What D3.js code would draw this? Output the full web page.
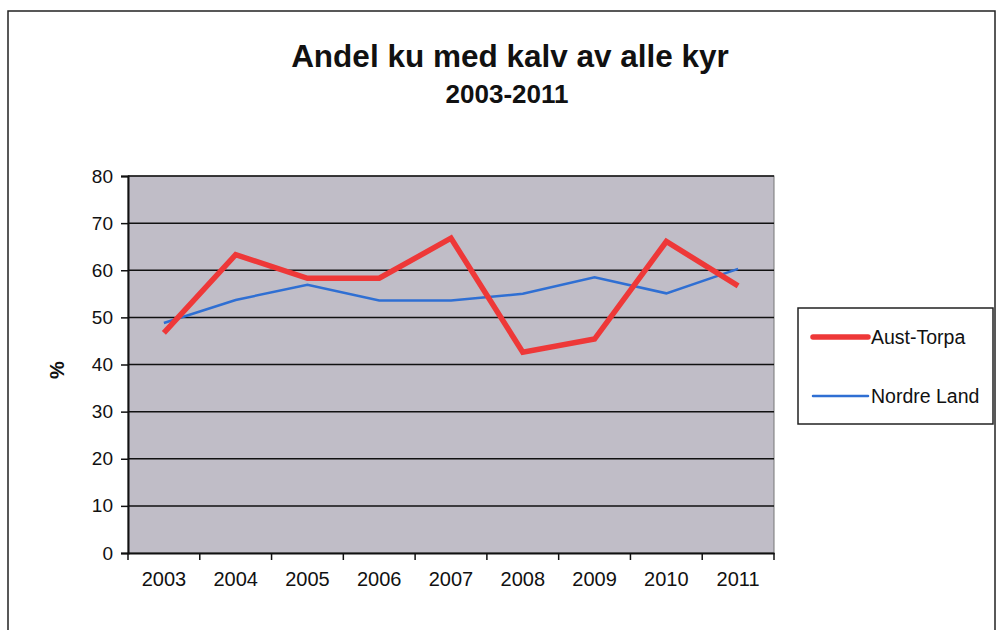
<!DOCTYPE html>
<html>
<head>
<meta charset="utf-8">
<script src="https://cdn.jsdelivr.net/npm/d3@7"></script>
<style>
  body { margin: 0; background: #fff; }
  text { font-family: "Liberation Sans", Arial, sans-serif; fill: #111; }
</style>
</head>
<body>
<svg id="chart"></svg>
<script>
const years = ["2003", "2004", "2005", "2006", "2007", "2008", "2009", "2010", "2011"];
const austTorpa = [46.7, 63.3, 58.3, 58.3, 66.8, 42.6, 45.4, 66.1, 56.7];
const nordreLand = [48.8, 53.7, 56.9, 53.6, 53.6, 55.0, 58.5, 55.1, 60.3];
const yTicks = [0, 10, 20, 30, 40, 50, 60, 70, 80];

const width = 1000,
	height = 630;

const svg = d3.select("#chart").attr("width", width).attr("height", height);

// outer chart frame
svg.append("rect")
	.attr("x", 8).attr("y", 11)
	.attr("width", 987).attr("height", 640)
	.attr("fill", "none")
	.attr("stroke", "#222")
	.attr("stroke-width", 1.5);

const plot = { left: 128, right: 774, top: 176, bottom: 553 };

const x = d3.scaleBand().domain(years).range([plot.left, plot.right]);
const y = d3.scaleLinear().domain([0, 80]).range([plot.bottom, plot.top]);

// plot background
svg.append("rect")
	.attr("x", plot.left).attr("y", plot.top)
	.attr("width", plot.right - plot.left).attr("height", plot.bottom - plot.top)
	.attr("fill", "#c0bdc7")
	.attr("stroke", "#777")
	.attr("stroke-width", 1);

// gridlines
svg.append("g")
	.selectAll("line")
	.data(yTicks.filter(d => d > 0))
	.enter()
	.append("line")
	.attr("x1", plot.left).attr("x2", plot.right)
	.attr("y1", d => y(d)).attr("y2", d => y(d))
	.attr("stroke", "#111")
	.attr("stroke-width", 1.5);

// y axis
const yAxis = svg.append("g")
	.attr("transform", `translate(${plot.left},0)`)
	.call(d3.axisLeft(y).tickValues(yTicks).tickSize(7).tickPadding(8));
yAxis.select(".domain").attr("stroke", "#111").attr("stroke-width", 2);
yAxis.selectAll(".tick line").attr("stroke", "#111").attr("stroke-width", 1.5);
yAxis.selectAll("text").attr("font-size", 19).attr("font-family", "Liberation Sans, Arial, sans-serif").attr("fill", "#111");

// x axis: ticks between categories
const xAxis = svg.append("g")
	.attr("transform", `translate(0,${plot.bottom})`)
	.call(d3.axisBottom(x).tickSize(0).tickPadding(19));
xAxis.select(".domain").attr("stroke", "#111").attr("stroke-width", 2);
xAxis.selectAll("text").attr("font-size", 20).attr("font-family", "Liberation Sans, Arial, sans-serif").attr("fill", "#111");

const boundaries = years.map(d => x(d)).concat([x(years[years.length - 1]) + x.bandwidth()]);
svg.append("g")
	.selectAll("line")
	.data(boundaries)
	.enter()
	.append("line")
	.attr("x1", d => d).attr("x2", d => d)
	.attr("y1", plot.bottom).attr("y2", plot.bottom + 7)
	.attr("stroke", "#111")
	.attr("stroke-width", 1.5);

// y axis label
svg.append("text")
	.attr("transform", "translate(64,370) rotate(-90)")
	.attr("text-anchor", "middle")
	.attr("font-size", 20)
	.attr("font-weight", "bold")
	.text("%");

// lines
const line = d3.line()
	.x((d, i) => x(years[i]) + x.bandwidth() / 2)
	.y(d => y(d));

svg.append("path")
	.datum(nordreLand)
	.attr("d", line)
	.attr("fill", "none")
	.attr("stroke", "#2f6fd3")
	.attr("stroke-width", 2.5);

svg.append("path")
	.datum(austTorpa)
	.attr("d", line)
	.attr("fill", "none")
	.attr("stroke", "#ee3838")
	.attr("stroke-width", 5.5)
	.attr("stroke-linejoin", "miter");

// title
svg.append("text")
	.attr("x", 510).attr("y", 67)
	.attr("text-anchor", "middle")
	.attr("font-size", 31.5)
	.attr("font-weight", "bold")
	.text("Andel ku med kalv av alle kyr");

svg.append("text")
	.attr("x", 507).attr("y", 103)
	.attr("text-anchor", "middle")
	.attr("font-size", 26)
	.attr("font-weight", "bold")
	.text("2003-2011");

// legend
const legendData = [
	{ label: "Aust-Torpa", color: "#ee3838", w: 5.5 },
	{ label: "Nordre Land", color: "#2f6fd3", w: 2.5 }
];
const legend = svg.append("g").attr("transform", "translate(798,308)");
legend.append("rect")
	.attr("width", 195).attr("height", 116)
	.attr("fill", "#fff")
	.attr("stroke", "#222")
	.attr("stroke-width", 1.5);
const items = legend.selectAll(".item")
	.data(legendData)
	.enter()
	.append("g")
	.attr("class", "item")
	.attr("transform", (d, i) => `translate(0,${29 + i * 59})`);
items.append("line")
	.attr("x1", 15).attr("x2", 70)
	.attr("stroke", d => d.color)
	.attr("stroke-width", d => d.w)
	.attr("stroke-linecap", "round");
items.append("text")
	.attr("x", 73).attr("y", 7)
	.attr("font-size", 19.5)
	.text(d => d.label);
</script>
</body>
</html>
